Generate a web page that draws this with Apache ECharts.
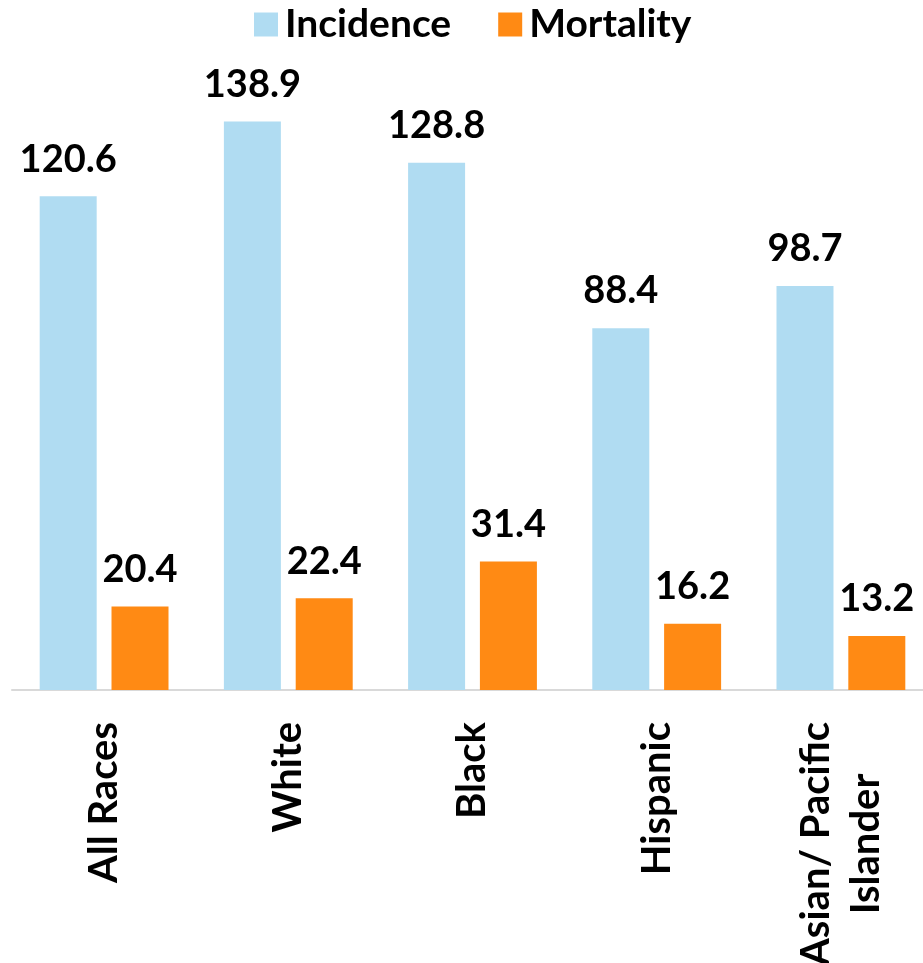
<!DOCTYPE html>
<html>
<head>
<meta charset="utf-8">
<script src="https://cdn.jsdelivr.net/npm/echarts@6/dist/echarts.min.js"></script>
<style>
  html, body { margin: 0; padding: 0; background: #fff; }
  #chart { width: 923px; height: 963px; }
</style>
</head>
<body>
<div id="chart"></div>
<script>
const categories = ["All Races", "White", "Black", "Hispanic", "Asian/ Pacific\nIslander"];
const incidence = [120.6, 138.9, 128.8, 88.4, 98.7];
const mortality = [20.4, 22.4, 31.4, 16.2, 13.2];

const FONT = "Lato";

const valueLabel = {
  show: true,
  position: "top",
  distance: 18,
  color: "#000",
  fontFamily: FONT,
  fontWeight: "bold",
  fontSize: 38,
};

const chart = echarts.init(document.getElementById("chart"));
chart.setOption({
  animation: false,
  backgroundColor: "#fff",
  legend: {
    top: 0,
    left: 249,
    itemWidth: 24,
    itemHeight: 24,
    itemGap: 47,
    icon: "rect",
    textStyle: {
      color: "#000",
      fontFamily: FONT,
      fontWeight: "bold",
      fontSize: 39,
      padding: [0, 0, 0, 2],
    },
    data: ["Incidence", "Mortality"],
  },
  grid: {
    left: 12,
    right: -10,
    top: 76,
    bottom: 273,
    outerBoundsMode: "none",
    containLabel: false,
  },
  xAxis: {
    type: "category",
    data: categories,
    axisTick: { show: false },
    axisLine: { lineStyle: { color: "#d9d9d9", width: 2 } },
    axisLabel: {
      interval: 0,
      rotate: 90,
      margin: 32,
      formatter: (v) => v.split("\n").map((s) => "{c|" + s + "}").join("\n"),
      rich: {
        c: {
          align: "center",
          color: "#000",
          fontFamily: FONT,
          fontWeight: "bold",
          fontSize: 40,
          lineHeight: 50,
        },
      },
    },
  },
  yAxis: {
    type: "value",
    min: 0,
    max: 150,
    show: false,
    splitLine: { show: false },
  },
  series: [
    {
      name: "Incidence",
      type: "bar",
      data: incidence,
      barWidth: 57,
      barGap: "26%",
      itemStyle: { color: "#b0dcf2" },
      label: valueLabel,
    },
    {
      name: "Mortality",
      type: "bar",
      data: mortality,
      barWidth: 57,
      itemStyle: { color: "#ff8a14" },
      label: valueLabel,
    },
  ],
});
</script>
</body>
</html>
